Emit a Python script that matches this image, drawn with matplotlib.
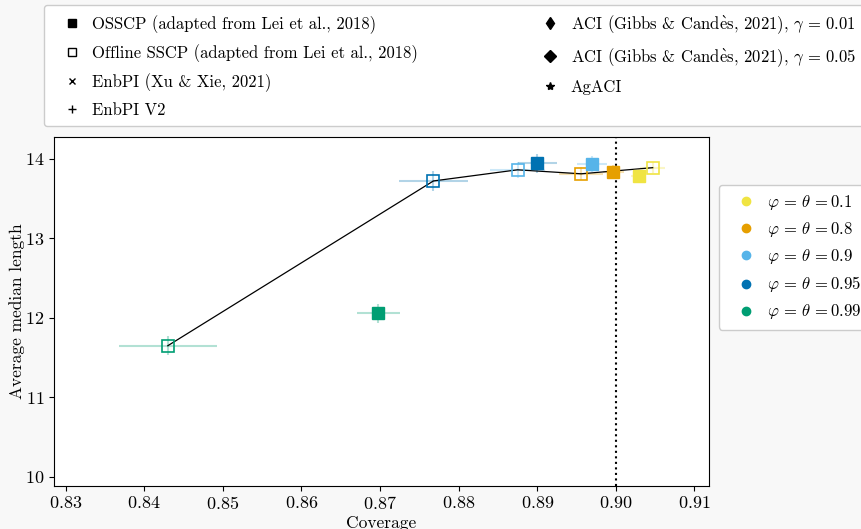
import matplotlib
matplotlib.use("Agg")
import matplotlib.pyplot as plt
from matplotlib.lines import Line2D

plt.rcParams['font.family'] = 'serif'
plt.rcParams['font.serif'] = ['cmr10', 'DejaVu Serif']
plt.rcParams['mathtext.fontset'] = 'cm'
plt.rcParams['axes.formatter.use_mathtext'] = True
plt.rcParams['font.size'] = 13

# one entry per value of phi = theta
params = [0.1, 0.8, 0.9, 0.95, 0.99]
param_colors = ['#F0E442', '#E69F00', '#56B4E9', '#0072B2', '#009E73']

# OSSCP (online)
osscp_cov = [0.9029, 0.8997, 0.8970, 0.8900, 0.8698]
osscp_len = [13.786, 13.836, 13.93, 13.94, 12.055]
osscp_cov_err = [0.0010, 0.0013, 0.0019, 0.0025, 0.0027]
osscp_len_err = [0.08, 0.09, 0.10, 0.12, 0.12]

# Offline SSCP
offline_cov = [0.9047, 0.8956, 0.8875, 0.8768, 0.8430]
offline_len = [13.887, 13.81, 13.86, 13.72, 11.648]
offline_cov_err = [0.0016, 0.0028, 0.0035, 0.0044, 0.0062]
offline_len_err = [0.07, 0.08, 0.10, 0.13, 0.12]

gammas = [0.01, 0.05]
target_coverage = 0.90

W, H = 862, 529
fig = plt.figure(figsize=(W / 100, H / 100), dpi=100, facecolor='#f8f8f8')
ax = fig.add_axes([54 / W, (H - 485.7) / H, (709 - 54) / W, (485.7 - 137.3) / H])

# black line joining the offline results
ax.plot(offline_cov, offline_len, color='black', lw=0.9, zorder=2)

for i, col in enumerate(param_colors):
    ax.errorbar(offline_cov[i], offline_len[i], xerr=offline_cov_err[i], yerr=offline_len_err[i],
                fmt='none', ecolor=col, alpha=0.3, elinewidth=1.5, zorder=1)
    ax.plot(offline_cov[i], offline_len[i], marker='s', ms=8, mfc='none', mec=col, mew=1.2,
            ls='none', zorder=3)
    ax.errorbar(osscp_cov[i], osscp_len[i], xerr=osscp_cov_err[i], yerr=osscp_len_err[i],
                fmt='none', ecolor=col, alpha=0.3, elinewidth=1.5, zorder=1)
    ax.plot(osscp_cov[i], osscp_len[i], marker='s', ms=8.5, color=col, ls='none', zorder=3)

ax.axvline(target_coverage, color='black', ls=':', lw=1.5, zorder=2)

ax.set_xlim(0.82851, 0.91187)
ax.set_ylim(9.887, 14.269)
ax.set_xticks([0.83, 0.84, 0.85, 0.86, 0.87, 0.88, 0.89, 0.90, 0.91])
ax.set_yticks([10, 11, 12, 13, 14])
ax.set_xlabel('Coverage', fontsize=12.5, labelpad=2)
ax.set_ylabel('Average median length', fontsize=12.5, labelpad=0)

leg_kw = dict(handlelength=2.3, handletextpad=0.1, borderpad=0.5, borderaxespad=0,
              fontsize=12, framealpha=1, edgecolor='#cccccc')

# method legend (black markers)
aci = r'ACI (Gibbs & Cand$\grave{\mathrm{e}}$s, 2021), $\gamma\,=\,%s$'
method_handles = [
    Line2D([], [], marker='s', color='black', ls='none', ms=6,
           label='OSSCP (adapted from Lei et al., 2018)'),
    Line2D([], [], marker='s', mfc='none', mec='black', ls='none', ms=6,
           label='Offline SSCP (adapted from Lei et al., 2018)'),
    Line2D([], [], marker='x', color='black', ls='none', ms=5,
           label='EnbPI (Xu & Xie, 2021)'),
    Line2D([], [], marker='+', color='black', ls='none', ms=6,
           label='EnbPI V2'),
    Line2D([], [], marker='d', color='black', ls='none', ms=6, label=aci % gammas[0]),
    Line2D([], [], marker='D', color='black', ls='none', ms=6, label=aci % gammas[1]),
    Line2D([], [], marker='*', color='black', ls='none', ms=6,
           label='AgACI'),
]
fig.legend(handles=method_handles, loc='upper left', bbox_to_anchor=(44 / W, 1 - 5 / H),
           ncol=2, columnspacing=6.75, labelspacing=0.62, **leg_kw)

# colour legend
param_handles = [Line2D([], [], marker='o', color=c, ls='none', ms=6,
                        label=r'$\varphi\,=\,\theta\,=$' + str(p))
                 for p, c in zip(params, param_colors)]
fig.legend(handles=param_handles, loc='upper left', bbox_to_anchor=(719 / W, 1 - 185 / H),
           labelspacing=0.48, **leg_kw)

fig.savefig('out.png', dpi=100, facecolor=fig.get_facecolor())
